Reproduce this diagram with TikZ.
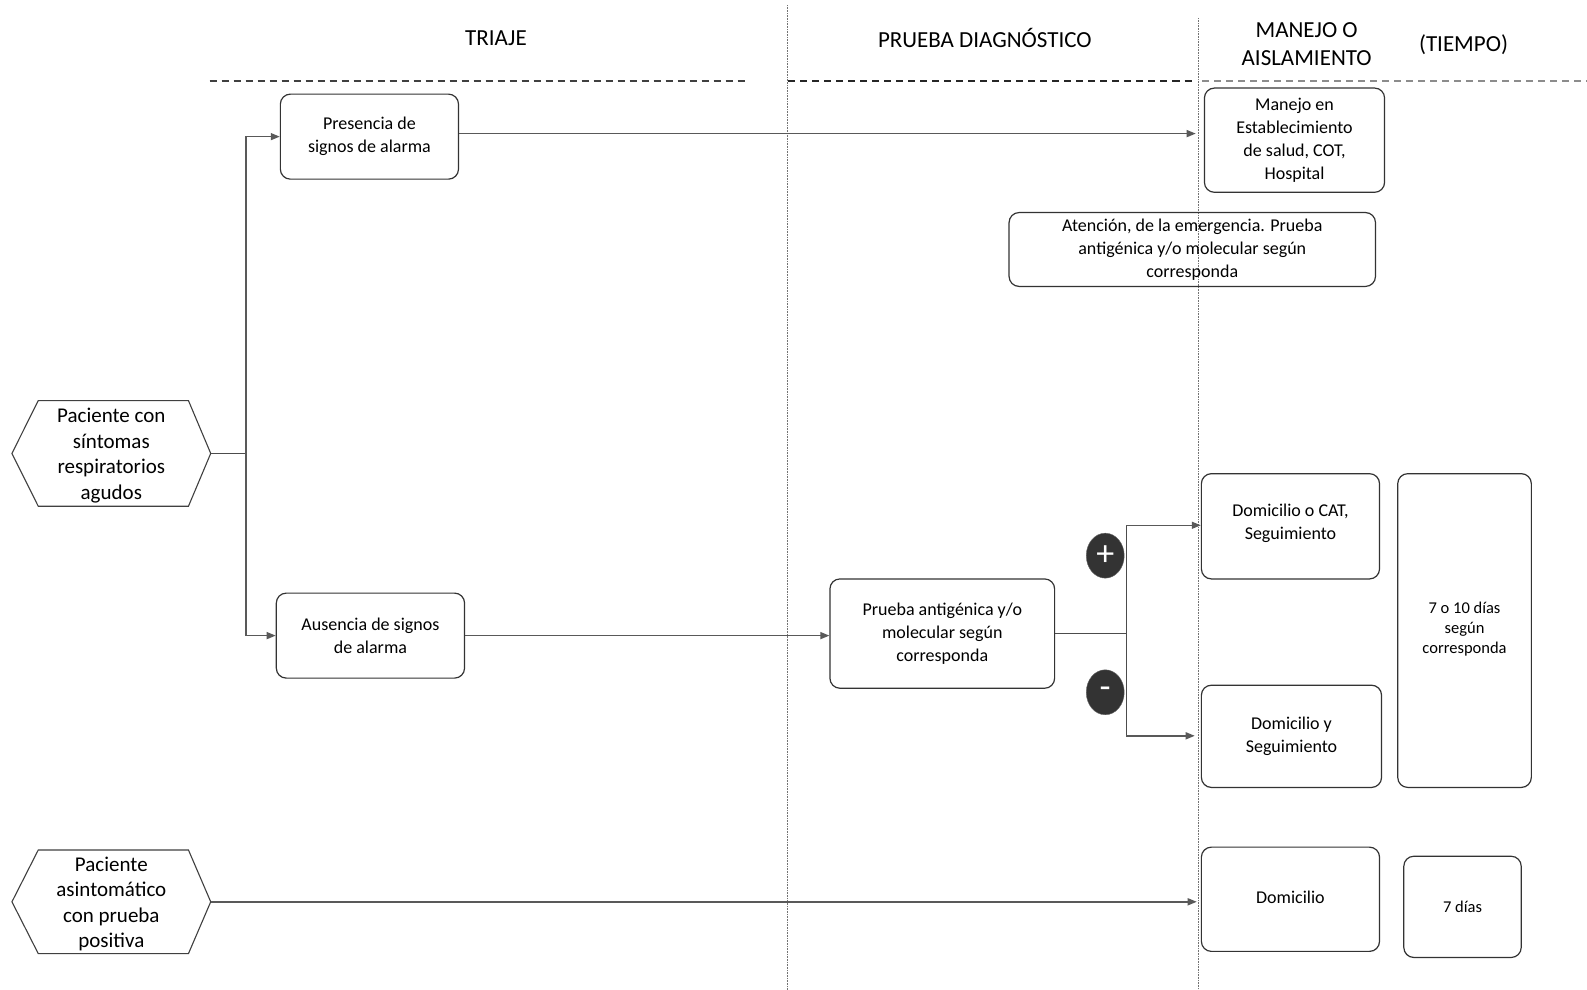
\documentclass[tikz,border=0pt]{standalone}
\usepackage{fontspec}
\setmainfont{Carlito}
\usetikzlibrary{fit,shapes.geometric,arrows.meta,calc}
\begin{document}
\begin{tikzpicture}[x=1.012pt,y=-1.012pt,
 box/.style={draw=black!80,line width=1.2pt,rounded corners=10pt,inner sep=0pt},
 btxt/.style={align=center,inner sep=0pt,font=\fontsize{18}{23}\selectfont},
 ttxt/.style={align=center,inner sep=0pt,font=\fontsize{16.5}{20}\selectfont},
 hexn/.style={inner sep=0pt},
 htxt/.style={align=center,inner sep=0pt,font=\fontsize{21}{25.5}\selectfont},
 hexs/.style={draw=black!75,line width=1.1pt},
 arr/.style={draw=black!65,line width=1.4pt,-{Triangle[length=9pt,width=7pt]}},
 ln/.style={draw=black!70,line width=1.3pt},
 hdr/.style={font=\fontsize{23}{28}\selectfont,align=center},
 sepline/.style={draw=black!55,line width=0.6pt,densely dotted},
 dsh/.style={line width=1.3pt,dash pattern=on 7pt off 5pt},
 sign/.style={ellipse,fill=black!80,draw=black!60,minimum width=38pt,minimum height=45pt,inner sep=0pt,text=white,font=\fontsize{36}{36}\selectfont}]
\useasboundingbox (0,0) rectangle (1568,978);
\fill[white] (0,0) rectangle (1568,978);
% separators
\draw[sepline] (778,5) -- (778,978);
\draw[sepline] (1184,18) -- (1184,978);
% headers
\node[hdr] (h1) at (490,38) {TRIAJE};
\node[hdr] (h2) at (973,38) {PRUEBA DIAGNÓSTICO};
\node[hdr] (h3) at (1291,44) {MANEJO O\\AISLAMIENTO};
\node[hdr] (h4) at (1446,44) {(TIEMPO)};
\draw[dsh,black!75] (207,80) -- (740,80);
\draw[dsh,black!85] (779,80) -- (1181,80);
\draw[dsh,black!45] (1188,80) -- (1568,80);
% boxes
\node[box,fit={(277,93)(453,177)}] (pres) {};
\node[btxt] (presT) at (pres.center) {Presencia de\\signos de alarma};
\node[box,fit={(1190,87)(1368,190)}] (man) {};
\node[btxt] (manT) at (man.center) {Manejo en\\Establecimiento\\de salud, COT,\\Hospital};
\node[box,fit={(997,210)(1359,283)}] (aten) {};
\node[btxt] (atenT) at (aten.center) {Atención, de la emergencia. Prueba\\antigénica y/o molecular según\\corresponda};
\node[box,fit={(273,586)(459,670)}] (aus) {};
\node[btxt] (ausT) at (aus.center) {Ausencia de signos\\de alarma};
\node[box,fit={(820,572)(1042,680)}] (pru) {};
\node[btxt] (pruT) at (pru.center) {Prueba antigénica y/o\\molecular según\\corresponda};
\node[box,fit={(1187,468)(1363,572)}] (dcat) {};
\node[btxt] (dcatT) at ($(dcat.center)+(0,-3)$) {Domicilio o CAT,\\Seguimiento};
\node[box,fit={(1187,677)(1365,778)}] (dys) {};
\node[btxt] (dysT) at (dys.center) {Domicilio y\\Seguimiento};
\node[box,fit={(1381,468)(1513,778)}] (t1) {};
\node[ttxt] (t1T) at ($(t1.center)+(0,-1)$) {7 o 10 días\\según\\corresponda};
\node[box,fit={(1187,837)(1363,940)}] (dom) {};
\node[btxt] (domT) at ($(dom.center)+(0,-2)$) {Domicilio};
\node[box,fit={(1387,846)(1503,946)}] (t2) {};
\node[ttxt] (t2T) at (t2.center) {7 días};
% hexagons
\node[hexn,fit={(12,396)(208,500)}] (hexA) {};
\draw[hexs] (hexA.west) -- ($(hexA.north west)+(26,0)$) -- ($(hexA.north east)+(-22,0)$) -- (hexA.east) -- ($(hexA.south east)+(-22,0)$) -- ($(hexA.south west)+(26,0)$) -- cycle;
\node[htxt] (hexAT) at ($(hexA.center)+(0,2)$) {Paciente con\\síntomas\\respiratorios\\agudos};
\node[hexn,fit={(12,840)(208,942)}] (hexB) {};
\draw[hexs] (hexB.west) -- ($(hexB.north west)+(26,0)$) -- ($(hexB.north east)+(-22,0)$) -- (hexB.east) -- ($(hexB.south east)+(-22,0)$) -- ($(hexB.south west)+(26,0)$) -- cycle;
\node[htxt] (hexBT) at ($(hexB.center)+(0,2)$) {Paciente\\asintomático\\con prueba\\positiva};
% connectors
\coordinate (trunk) at (243,448);
\draw[ln] (hexA.east) -- (trunk);
\draw[arr] (trunk) |- (pres.west);
\draw[arr] (trunk) |- (aus.west);
\draw[arr] ($(pres.east)+(0,-3)$) -- ($(man.west |- pres.east)+(-8,-3)$);
\draw[arr] (aus.east) -- (pru.west |- aus.east);
\coordinate (br) at (1113,626);
\coordinate (brt) at (1113,519);
\coordinate (brb) at (1113,727);
\draw[ln] (pru.east |- br) -- (br);
\draw[ln] (brt) -- (brb);
\draw[arr] (brt) -- (dcat.west |- brt);
\draw[arr] (brb) -- ($(dys.west |- brb)+(-6,0)$);
\node[sign] (plus) at (1092,549) {+};
\node[sign] (minus) at (1092,684) {-};
\draw[arr] (hexB.east) -- ($(dom.west |- hexB.east)+(-4,0)$);
\end{tikzpicture}
\end{document}
